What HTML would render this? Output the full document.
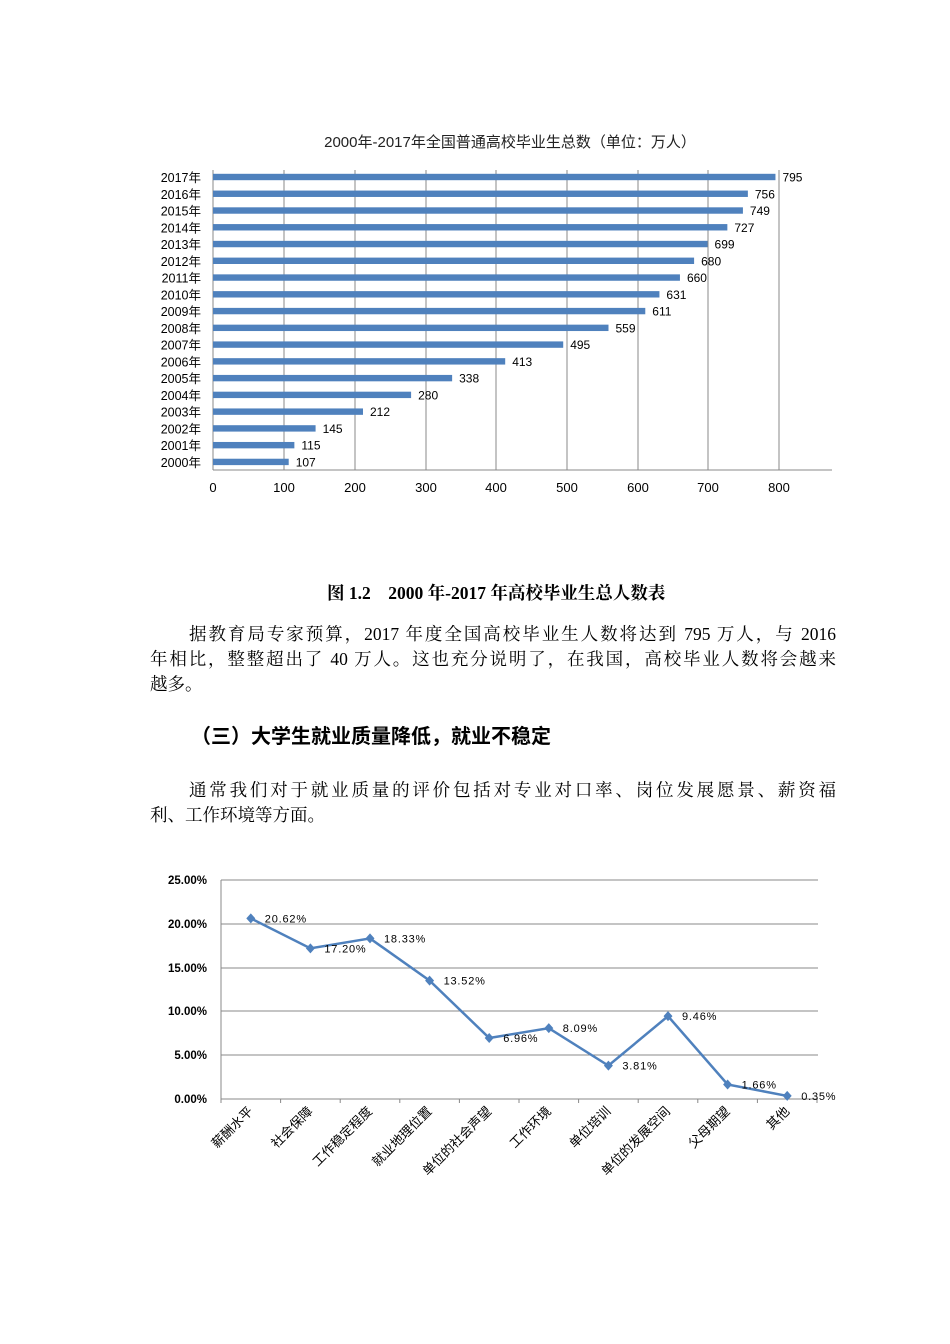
<!DOCTYPE html>
<html><head><meta charset="utf-8"><style>
body{margin:0;background:#fff;width:950px;height:1344px;position:relative;overflow:hidden;font-family:"Liberation Serif","Noto Serif CJK SC",serif;color:#000}
.l{position:absolute;font-size:17.5px;white-space:nowrap;line-height:20px}
.j{text-align:justify;text-align-last:justify}
</style></head><body>
<svg width="950" height="1344" style="position:absolute;left:0;top:0" font-family="Liberation Sans, Noto Sans CJK SC, sans-serif">
<text x="510" y="147" font-size="15" text-anchor="middle" fill="#222">2000年-2017年全国普通高校毕业生总数（单位：万人）</text>
<g stroke="#888" stroke-width="1">
<line x1="213" y1="170" x2="213" y2="470"/>
<line x1="213" y1="470" x2="832" y2="470"/>
<line x1="284" y1="170" x2="284" y2="470"/><line x1="355" y1="170" x2="355" y2="470"/><line x1="426" y1="170" x2="426" y2="470"/><line x1="496" y1="170" x2="496" y2="470"/><line x1="567" y1="170" x2="567" y2="470"/><line x1="638" y1="170" x2="638" y2="470"/><line x1="708" y1="170" x2="708" y2="470"/><line x1="779" y1="170" x2="779" y2="470"/>
</g>
<g id="bars"></g>
<g font-size="13" text-anchor="middle" fill="#000">
<text x="213" y="492">0</text><text x="284" y="492">100</text><text x="355" y="492">200</text><text x="426" y="492">300</text><text x="496" y="492">400</text><text x="567" y="492">500</text><text x="638" y="492">600</text><text x="708" y="492">700</text><text x="779" y="492">800</text>
</g>
<g id="chart2">
<g stroke="#888" stroke-width="1">
<line x1="221" y1="880" x2="818" y2="880"/><line x1="221" y1="924" x2="818" y2="924"/><line x1="221" y1="968" x2="818" y2="968"/><line x1="221" y1="1011" x2="818" y2="1011"/><line x1="221" y1="1055" x2="818" y2="1055"/><line x1="221" y1="1099" x2="818" y2="1099"/>
<line x1="221" y1="880" x2="221" y2="1103"/>
</g>
<g font-size="11.5" font-weight="bold" text-anchor="end" fill="#000">
<text x="207" y="884">25.00%</text><text x="207" y="928">20.00%</text><text x="207" y="972">15.00%</text><text x="207" y="1015">10.00%</text><text x="207" y="1059">5.00%</text><text x="207" y="1103">0.00%</text>
</g>
</g>
</svg>
<script>
var yrs=[795,756,749,727,699,680,660,631,611,559,495,413,338,280,212,145,115,107];
var s='';
for(var i=0;i<18;i++){var y=177+i*16.76;var w=yrs[i]*0.7075;var yr=2017-i;
s+='<rect x="213" y="'+(y-3.2)+'" width="'+w+'" height="6.4" fill="#4f81bd"/>';
s+='<text x="'+(220+w)+'" y="'+(y+4.5)+'" font-size="12" fill="#000">'+yrs[i]+'</text>';
s+='<text x="201" y="'+(y+5)+'" font-size="12.5" text-anchor="end" fill="#000">'+yr+'年</text>';}
document.getElementById('bars').innerHTML=s;
var vals=[20.62,17.20,18.33,13.52,6.96,8.09,3.81,9.46,1.66,0.35];
var cats=['薪酬水平','社会保障','工作稳定程度','就业地理位置','单位的社会声望','工作环境','单位培训','单位的发展空间','父母期望','其他'];
var t='',pts=[];
for(var i=0;i<10;i++){var x=250.8+i*59.6,y=1099-vals[i]*8.76;pts.push(x+','+y);
t+='<line x1="'+(221+(i+1)*59.6)+'" y1="1099" x2="'+(221+(i+1)*59.6)+'" y2="1103" stroke="#888"/>';
t+='<text transform="translate('+(x+3)+',1112) rotate(-45)" font-size="13" text-anchor="end" fill="#000">'+cats[i]+'</text>';}
t+='<polyline points="'+pts.join(' ')+'" fill="none" stroke="#4f81bd" stroke-width="2.5"/>';
for(var i=0;i<10;i++){var x=250.8+i*59.6,y=1099-vals[i]*8.76;
t+='<path d="M'+x+' '+(y-5)+'L'+(x+4.5)+' '+y+'L'+x+' '+(y+5)+'L'+(x-4.5)+' '+y+'Z" fill="#4f81bd"/>';
t+='<text x="'+(x+14)+'" y="'+(y+4)+'" font-size="11" fill="#000" letter-spacing="0.8">'+vals[i].toFixed(2)+'%</text>';}
document.getElementById('chart2').innerHTML+=t;
</script>
<div class="l" style="left:327px;top:583px;font-weight:bold;">图 1.2　2000 年-2017 年高校毕业生总人数表</div>
<div class="l j" style="left:189px;top:624px;width:647px;">据教育局专家预算，2017 年度全国高校毕业生人数将达到 795 万人，与 2016</div>
<div class="l j" style="left:150px;top:649px;width:686px;">年相比，整整超出了 40 万人。这也充分说明了，在我国，高校毕业人数将会越来</div>
<div class="l" style="left:150px;top:674px;">越多。</div>
<div class="l" style="left:191px;top:727px;font-size:20px;font-weight:bold;font-family:'Liberation Sans','Noto Sans CJK SC',sans-serif;">（三）大学生就业质量降低，就业不稳定</div>
<div class="l j" style="left:189px;top:780px;width:647px;">通常我们对于就业质量的评价包括对专业对口率、岗位发展愿景、薪资福</div>
<div class="l" style="left:150px;top:805px;">利、工作环境等方面。</div>
</body></html>
